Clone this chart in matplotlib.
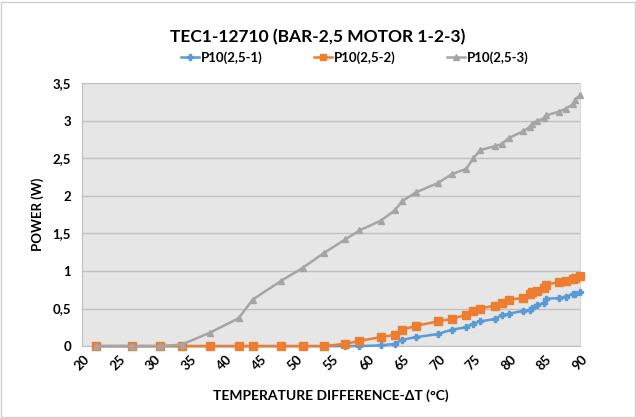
import matplotlib
matplotlib.use("Agg")
import matplotlib.pyplot as plt
from matplotlib.patches import Rectangle

# dados
delta_t = [22, 27, 31, 34, 38, 42, 44, 48, 51, 54, 57, 59, 62, 64, 65, 67, 70, 72,
           74, 75, 76, 78, 79, 80, 82, 83, 83.3, 84, 85, 85.2, 87, 88, 89, 89.3, 90]

p_1 = [0, 0, 0, 0, 0, 0, 0, 0, 0, 0, 0, 0, 0.01, 0.03, 0.085, 0.12, 0.16, 0.22,
       0.25, 0.30, 0.33, 0.36, 0.41, 0.43, 0.47, 0.48, 0.51, 0.55, 0.57, 0.63,
       0.64, 0.66, 0.69, 0.70, 0.72]

p_2 = [0, 0, 0, 0, 0, 0, 0, 0, 0, 0, 0.03, 0.07, 0.12, 0.15, 0.22, 0.27, 0.33, 0.36,
       0.42, 0.47, 0.50, 0.54, 0.58, 0.62, 0.64, 0.70, 0.72, 0.74, 0.77, 0.82,
       0.85, 0.87, 0.89, 0.90, 0.93]

p_3 = [0, 0, 0, 0.02, 0.18, 0.37, 0.62, 0.87, 1.04, 1.24, 1.42, 1.54, 1.67, 1.81,
       1.93, 2.05, 2.17, 2.29, 2.36, 2.50, 2.61, 2.66, 2.69, 2.77, 2.86, 2.92,
       2.96, 3.00, 3.03, 3.07, 3.12, 3.16, 3.22, 3.28, 3.34]

nomes = ['P10(2,5-1)', 'P10(2,5-2)', 'P10(2,5-3)']
cores = ['#5B9BD5', '#ED7D31', '#A5A5A5']
marcadores = ['P', 's', '^']

x_ticks = [20, 25, 30, 35, 40, 45, 50, 55, 60, 65, 70, 75, 80, 85, 90]
y_ticks = [0, 0.5, 1, 1.5, 2, 2.5, 3, 3.5]
y_labels = ['0', '0,5', '1', '1,5', '2', '2,5', '3', '3,5']

plt.rcParams['font.family'] = ['Lato', 'DejaVu Sans']

fig = plt.figure(figsize=(6.36, 4.18), dpi=100)
fig.patches.append(Rectangle((0.002, 0.002), 0.996, 0.994, transform=fig.transFigure,
                             fill=False, edgecolor='#D0D0D0', linewidth=1))
ax = fig.add_axes([0.129, 0.172, 0.783, 0.629])
ax.set_facecolor('#E6E6E6')

for serie, nome, cor, m, z in zip([p_1, p_2, p_3], nomes, cores, marcadores, [3, 4, 5]):
    ms = 5.5 if m == 's' else 5
    ax.plot(delta_t, serie, color=cor, marker=m, markersize=ms, linewidth=1.8,
            label=nome, zorder=z, clip_on=False)

ax.set_xlim(20, 90)
ax.set_ylim(0, 3.5)
ax.set_xticks(x_ticks)
ax.set_yticks(y_ticks)
ax.set_yticklabels(y_labels)
ax.tick_params(length=0, labelsize=9.5)
for lbl in ax.get_xticklabels():
    lbl.set_rotation(45)
    lbl.set_fontweight('bold')
for lbl in ax.get_yticklabels():
    lbl.set_fontweight('bold')
ax.tick_params(axis='x', pad=5)
ax.tick_params(axis='y', pad=8)

ax.grid(axis='y', color='#C0C0C0', linewidth=1)
ax.set_axisbelow(True)
ax.spines['top'].set_visible(False)
ax.spines['right'].set_color('#D8D8D8')
ax.spines['left'].set_color('#BFBFBF')
ax.spines['bottom'].set_color('#BFBFBF')

ax.set_xlabel('TEMPERATURE DIFFERENCE-ΔT (°C)', fontsize=10, fontweight='bold', labelpad=12)
ax.set_ylabel('POWER (W)', fontsize=9.5, fontweight='bold', labelpad=6)

fig.suptitle('TEC1-12710 (BAR-2,5 MOTOR 1-2-3)', fontsize=12.5, fontweight='bold', y=0.93)
ax.legend(loc='lower center', bbox_to_anchor=(0.548, 1.027), ncol=3, frameon=False,
          handlelength=1.35, handletextpad=0.15, columnspacing=3.9, markerscale=0.8,
          prop={'weight': 'bold', 'size': 9.5})

fig.savefig('out.png', dpi=100)
